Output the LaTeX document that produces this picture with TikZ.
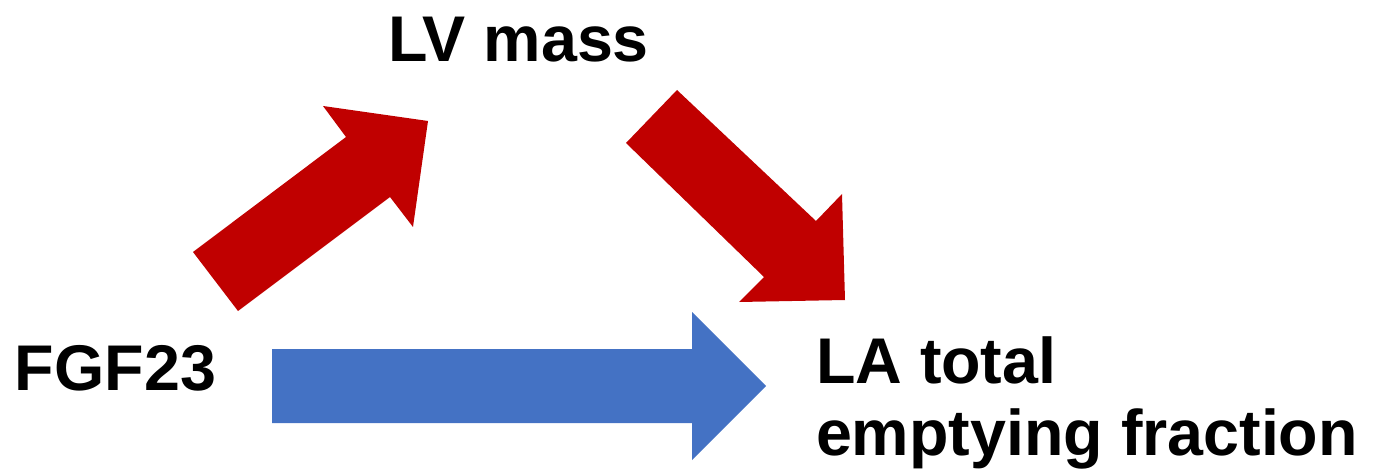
\documentclass[tikz,border=0pt]{standalone}
\usepackage{fontspec}
\setmainfont{Liberation Sans}
\definecolor{arrred}{HTML}{C00000}
\definecolor{arrblue}{HTML}{4472C4}
\begin{document}
\begin{tikzpicture}[x=0.5pt,y=-0.5pt,
  lbl/.style={inner sep=0pt,outer sep=0pt,font=\fontsize{32.3pt}{36pt}\selectfont\bfseries,text=black},
  redarrow/.style={fill=arrred,draw=none},
  bluearrow/.style={fill=arrblue,draw=none}]
\useasboundingbox (0,0) rectangle (1378,476);
% labels
\node[lbl,anchor=base west] (lv) at (388,62) {LV mass};
\node[lbl,anchor=base west] (fgf) at (15,390) {FGF23};
\node[lbl,anchor=base west,align=left] (la) at (816,455) {LA total\\emptying fraction};
% arrow FGF23 -> LV mass
\fill[redarrow] (193,252) -- (346,137) -- (323,106) -- (428,121) -- (413,227) -- (390,197) -- (238,311) -- cycle;
% arrow LV mass -> LA
\fill[redarrow] (677,90) -- (816,221) -- (842,194) -- (845,300) -- (739,302) -- (764,277) -- (626,143) -- cycle;
% arrow FGF23 -> LA
\fill[bluearrow] (272,349) -- (692,349) -- (692,312) -- (766,386) -- (692,460) -- (692,423) -- (272,423) -- cycle;
\end{tikzpicture}
\end{document}
